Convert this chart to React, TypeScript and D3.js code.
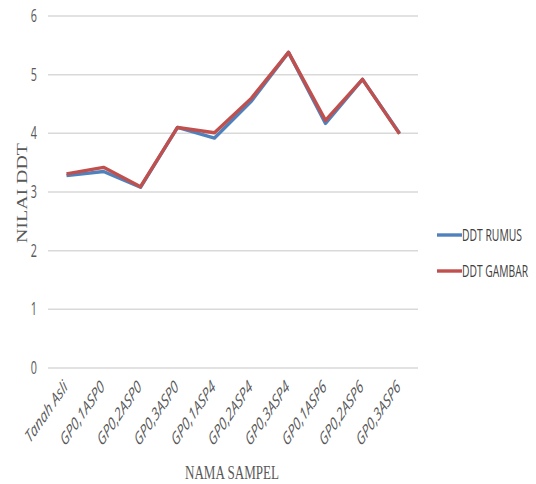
import React from "react";
import * as d3 from "d3";

const categories = ["Tanah Asli", "GP0,1ASP0", "GP0,2ASP0", "GP0,3ASP0", "GP0,1ASP4", "GP0,2ASP4", "GP0,3ASP4", "GP0,1ASP6", "GP0,2ASP6", "GP0,3ASP6"];
const ddtRumus = [3.28, 3.35, 3.08, 4.1, 3.92, 4.55, 5.38, 4.17, 4.92, 4.0];
const ddtGambar = [3.31, 3.42, 3.09, 4.1, 4.01, 4.6, 5.38, 4.22, 4.92, 3.99];
const yTicks = [0, 1, 2, 3, 4, 5, 6];
const seriesNames = ["DDT RUMUS", "DDT GAMBAR"];
const colors = ["#4F81BD", "#C0504D"];

const SY = 1.45;

export default function App() {
  const W = 536, H = 484;
  const left = 48, right = 418, top = 16, bottom = 368;
  const x = d3.scaleBand<string>().domain(categories).range([left, right]);
  const y = d3.scaleLinear().domain([0, 6]).range([bottom, top]);
  const line = d3.line<number>()
    .x((_, i) => (x(categories[i]) as number) + x.bandwidth() / 2)
    .y((d) => y(d));
  const series = [ddtRumus, ddtGambar];
  const tickFont = "'Open Sans', sans-serif";
  return (
    <svg width={W} height={H} style={{ position: "absolute", left: 0, top: 0, background: "#fff" }}>
      {yTicks.map((t) => (
        <g key={t}>
          <line x1={left} x2={right} y1={y(t)} y2={y(t)} stroke="#D9D9D9" strokeWidth={1.5} />
          <g transform={`translate(37,${y(t)}) scale(0.9,${SY})`}>
            <text x={0} y={0} dy="0.35em" textAnchor="end" fontSize={12} fill="#595959" fontFamily={tickFont}>{t}</text>
          </g>
        </g>
      ))}
      {categories.map((c) => {
        const cx = (x(c) as number) + x.bandwidth() / 2;
        return (
          <g key={c} transform={`translate(${cx + 2},${bottom + 20}) scale(1,${SY}) rotate(-45)`}>
            <text x={0} y={0} textAnchor="end" fontSize={12} fill="#595959" fontFamily={tickFont} fontStyle="italic">{c}</text>
          </g>
        );
      })}
      {series.map((s, i) => (
        <path key={i} d={line(s) || ""} fill="none" stroke={colors[i]} strokeWidth={3.4} strokeLinejoin="round" />
      ))}
      <g transform={`translate(27,193) rotate(-90)`}>
        <text x={-50} y={0} textLength={100} lengthAdjust="spacingAndGlyphs" fontSize={14} fill="#595959" fontFamily="'Liberation Serif', serif">NILAI DDT</text>
      </g>
      <g transform={`translate(185,479) scale(1,${SY})`}>
        <text x={0} y={0} textLength={94} lengthAdjust="spacingAndGlyphs" fontSize={12.5} fill="#595959" fontFamily="'Liberation Serif', serif">NAMA SAMPEL</text>
      </g>
      {seriesNames.map((n, i) => {
        const ly = 235 + i * 36;
        return (
          <g key={n}>
            <line x1={437} x2={462} y1={ly} y2={ly} stroke={colors[i]} strokeWidth={3.4} />
            <g transform={`translate(462,${ly}) scale(1,${SY})`}>
              <text x={0} y={0} dy="0.35em" textLength={i === 0 ? 60 : 66} lengthAdjust="spacingAndGlyphs" fontSize={11} fill="#404040" fontFamily={tickFont}>{n}</text>
            </g>
          </g>
        );
      })}
    </svg>
  );
}
